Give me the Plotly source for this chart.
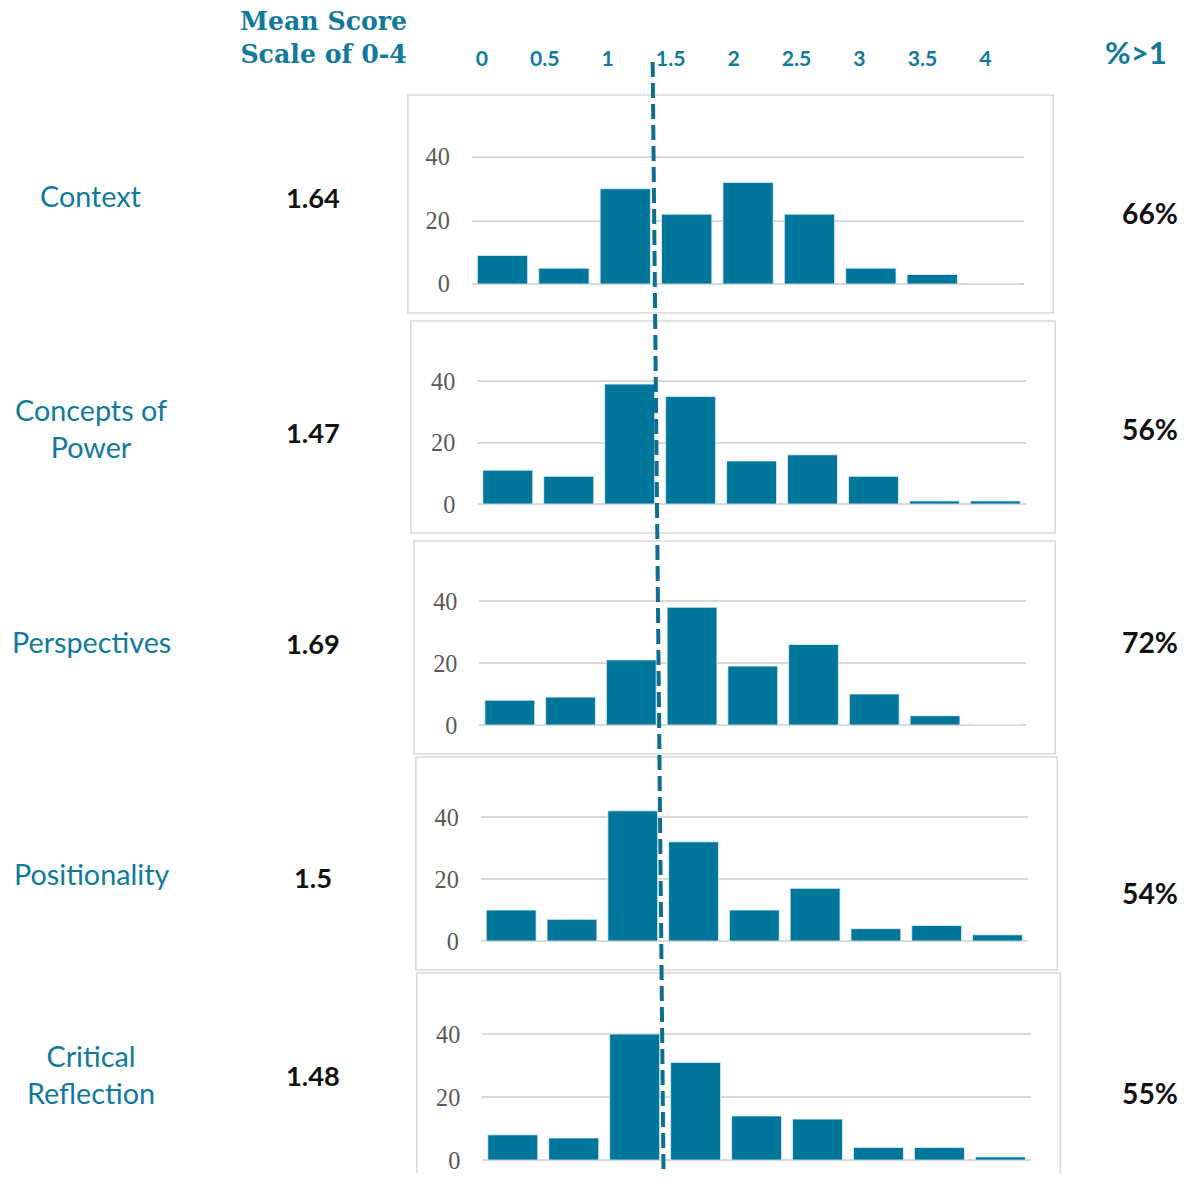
import plotly.graph_objects as go

# Score bins on the 0-4 scale (x categories of every histogram)
score_bins = ["0", "0.5", "1", "1.5", "2", "2.5", "3", "3.5", "4"]
top_tick_vals = [0, 0.5, 1, 1.5, 2, 2.5, 3, 3.5, 4]
top_tick_text = ["0", "0.5", "1", "1.5", "2", "2.5", "3", "3.5", "4"]

dimensions = ["Context", "Concepts of<br>Power", "Perspectives", "Positionality",
              "Critical<br>Reflection"]
mean_scores = ["1.64", "1.47", "1.69", "1.5", "1.48"]
pct_above_1 = ["66%", "56%", "72%", "54%", "55%"]

# Number of responses per score bin
context_counts = [9, 5, 30, 22, 32, 22, 5, 3, 0]
power_counts = [11, 9, 39, 35, 14, 16, 9, 1, 1]
perspectives_counts = [8, 9, 21, 38, 19, 26, 10, 3, 0]
positionality_counts = [10, 7, 42, 32, 10, 17, 4, 5, 2]
reflection_counts = [8, 7, 40, 31, 14, 13, 4, 4, 1]
all_counts = [context_counts, power_counts, perspectives_counts,
              positionality_counts, reflection_counts]

W, H = 1184, 1186
BAR = "#00769A"
TEAL = "#117A9B"
GRID = "#D9D9D9"

# Layout positions below are given in display pixels; these factors convert
# them to figure pixels for the page the figure is shown in.
SX, OX = 0.9907, 4.8
SY, OY = 0.989, 0.0
FS = 1 / SX  # font scale


def fx(px):
    return ((px - OX) / SX) / W


def fy(py):
    return max(0.0, 1 - ((py - OY) / SY) / H)


# Geometry of each panel: plot left/right, baseline, px per count, frame
panel_geom = [
    (471.0, 1024.0, 284.0, 3.175, (407, 95, 1053, 313)),
    (476.5, 1025.5, 504.0, 3.075, (410, 321, 1055, 533)),
    (478.6, 1025.8, 725.0, 3.10, (413, 541, 1055, 754)),
    (480.0, 1027.5, 941.0, 3.10, (415, 757, 1057, 970)),
    (481.5, 1030.5, 1160.0, 3.15, (416, 973, 1060, 1186)),
]
label_y = [196, 428, 642, 874, 1074]
mean_y = [197, 432, 643, 877, 1075]
pct_y = [213, 429, 642, 893, 1093]
YMAX = 45

fig = go.Figure()
layout = dict(
    width=W, height=H, margin=dict(l=0, r=0, t=0, b=0),
    paper_bgcolor="white", plot_bgcolor="rgba(0,0,0,0)",
    showlegend=False, bargap=0.18,
)
shapes = []
annotations = []

for i, counts in enumerate(all_counts):
    n = i + 1
    left, right, base, unit, box = panel_geom[i]
    xa = "x" if n == 1 else f"x{n}"
    ya = "y" if n == 1 else f"y{n}"
    fig.add_trace(go.Bar(
        x=score_bins, y=counts, xaxis=xa, yaxis=ya,
        marker=dict(color=BAR, line=dict(color="#E8F2F6", width=0.8)),
        hoverinfo="x+y",
    ))
    top_px = base - YMAX * unit
    layout[f"xaxis{'' if n == 1 else n}"] = dict(
        domain=[fx(left), fx(right)], anchor=ya,
        type="category", range=[-0.5, 8.5],
        showticklabels=False, showgrid=False, zeroline=False, showline=False,
        ticks="",
    )
    layout[f"yaxis{'' if n == 1 else n}"] = dict(
        domain=[fy(base), fy(top_px)], anchor=xa,
        range=[0, YMAX], tickvals=[0, 20, 40],
        showgrid=True, gridcolor=GRID, gridwidth=1.6,
        zeroline=True, zerolinecolor=GRID, zerolinewidth=1.6,
        showline=False, ticks="", ticklabelstandoff=21,
        tickfont=dict(family="Liberation Serif", size=24 * FS, color="#595959"),
    )
    # Panel frame; the last one runs off the bottom edge, so leave it open there
    x0, y0, x1, y1 = box
    if n < len(all_counts):
        shapes.append(dict(
            type="rect", xref="paper", yref="paper",
            x0=fx(x0), x1=fx(x1), y0=fy(y1), y1=fy(y0),
            line=dict(color=GRID, width=1.5), fillcolor="rgba(0,0,0,0)",
            layer="below",
        ))
    else:
        shapes.append(dict(
            type="path", xref="paper", yref="paper",
            path=(f"M {fx(x0)},{fy(y1)} L {fx(x0)},{fy(y0)} "
                  f"L {fx(x1)},{fy(y0)} L {fx(x1)},{fy(y1)}"),
            line=dict(color=GRID, width=1.5), layer="below",
        ))
    annotations.append(dict(
        text=dimensions[i], x=fx(90), y=fy(label_y[i]), xref="paper", yref="paper",
        showarrow=False, xanchor="center", yanchor="middle",
        font=dict(family="Lato", size=28.5 * FS, color=TEAL),
    ))
    annotations.append(dict(
        text=mean_scores[i], x=fx(312), y=fy(mean_y[i]), xref="paper", yref="paper",
        showarrow=False, xanchor="center", yanchor="middle",
        font=dict(family="Lato", size=27 * FS, color="#111111", weight="bold"),
    ))
    annotations.append(dict(
        text=pct_above_1[i], x=fx(1150), y=fy(pct_y[i]), xref="paper", yref="paper",
        showarrow=False, xanchor="center", yanchor="middle",
        font=dict(family="Lato", size=28 * FS, color="#111111", weight="bold"),
    ))

# Shared 0-4 score scale across the top
fig.add_trace(go.Scatter(
    x=top_tick_vals, y=[0] * len(top_tick_vals), xaxis="x6", yaxis="y6",
    mode="markers", marker=dict(opacity=0), hoverinfo="skip",
))
layout["xaxis6"] = dict(
    domain=[fx(481), fx(985)], anchor="y6", range=[0, 4], side="top",
    tickvals=top_tick_vals, ticktext=top_tick_text,
    showgrid=False, zeroline=False, showline=False, ticks="",
    tickfont=dict(family="Lato", size=21 * FS, color=TEAL, weight="bold"),
)
layout["yaxis6"] = dict(domain=[fy(73), fy(71)], anchor="x6", visible=False,
                        range=[-1, 1])

# Column headers
annotations.append(dict(
    text="Mean Score<br>Scale of 0-4", x=fx(323), y=fy(37), xref="paper", yref="paper",
    showarrow=False, xanchor="center", yanchor="middle",
    font=dict(family="DejaVu Serif", size=25 * FS, color=TEAL, weight="bold"),
))
annotations.append(dict(
    text="%>1", x=fx(1136), y=fy(52), xref="paper", yref="paper",
    showarrow=False, xanchor="center", yanchor="middle",
    font=dict(family="Lato", size=31 * FS, color=TEAL, weight="bold"),
))

# Dashed reference line running through all panels, stopped at the page bottom
lx0, ly0, lx1, ly1 = 652.0, 62.0, 663.0, 1186.0
y_end = OY + SY * H
x_end = lx0 + (lx1 - lx0) * (y_end - ly0) / (ly1 - ly0)
shapes.append(dict(
    type="line", xref="paper", yref="paper",
    x0=fx(lx0), y0=fy(ly0), x1=fx(x_end), y1=fy(y_end),
    line=dict(color="#0F6E8F", width=4, dash="15px,6px"),
    layer="above",
))

layout["shapes"] = shapes
layout["annotations"] = annotations
fig.update_layout(**layout)
fig.write_html("out.html")
